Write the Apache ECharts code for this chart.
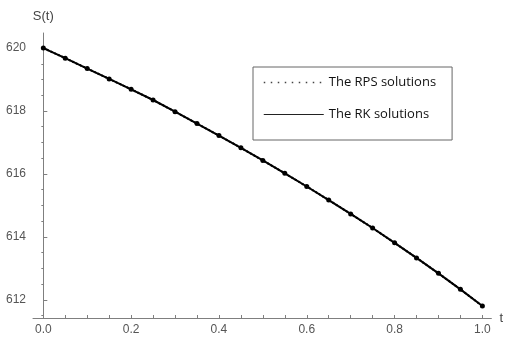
<!DOCTYPE html>
<html><head><meta charset="utf-8">
<script src="https://cdn.jsdelivr.net/npm/echarts@6/dist/echarts.min.js"></script>
<style>html,body{margin:0;padding:0;background:#fff}#c{width:506px;height:337px}</style>
</head><body><div id="c"></div>
<script>
var tValues = [0,0.05,0.1,0.15,0.2,0.25,0.3,0.35,0.4,0.45,0.5,0.55,0.6,0.65,0.7,0.75,0.8,0.85,0.9,0.95,1.0];
var rpsValues = [620.0,619.68,619.35,619.02,618.69,618.35,617.98,617.6,617.22,616.83,616.43,616.02,615.6,615.17,614.73,614.28,613.81,613.33,612.84,612.33,611.8];
var rkValues  = [620.0,619.68,619.35,619.02,618.69,618.35,617.98,617.6,617.22,616.83,616.43,616.02,615.6,615.17,614.73,614.28,613.81,613.33,612.84,612.33,611.8];
var xMajor = [0,0.2,0.4,0.6,0.8,1.0];
var xMajorLabels = ['0.0','0.2','0.4','0.6','0.8','1.0'];
var xTicks = [0,0.05,0.1,0.15,0.2,0.25,0.3,0.35,0.4,0.45,0.5,0.55,0.6,0.65,0.7,0.75,0.8,0.85,0.9,0.95,1.0];
var yMajor = [612,614,616,618,620];
var yMinor = [611.5,612.5,613,613.5,614.5,615,615.5,616.5,617,617.5,618.5,619,619.5];

function pairs(xs, ys){ return xs.map(function(x,i){return [x, ys[i]];}); }
function xLabel(v){
  var n = Number(v);
  for (var i=0;i<xMajor.length;i++){ if (Math.abs(xMajor[i]-n)<1e-6) return xMajorLabels[i]; }
  return n.toFixed(1);
}

var axisGray = '#7f7f7f';
var chart = echarts.init(document.getElementById('c'));
chart.setOption({
  animation:false,
  grid:{left:33, top:33, width:459, height:285, containLabel:false},
  xAxis:[{
    type:'value', min:-0.0235, max:1.0205,
    axisLine:{onZero:false, lineStyle:{color:axisGray, width:1}},
    axisTick:{inside:true, length:3, customValues:xTicks, lineStyle:{color:axisGray}},
    axisLabel:{customValues:xMajor, margin:6, formatter:xLabel, color:'#555', fontFamily:'Liberation Sans', fontSize:12},
    splitLine:{show:false},
    name:'t', nameLocation:'end', nameGap:8,
    nameTextStyle:{color:'#444', fontFamily:'Liberation Sans', fontSize:13}
  }],
  yAxis:[{
    type:'value', min:611.42, max:620.48,
    axisLine:{onZero:true, onZeroAxisIndex:0, lineStyle:{color:axisGray, width:1}},
    axisTick:{inside:true, length:4, customValues:yMajor, lineStyle:{color:axisGray}},
    axisLabel:{customValues:yMajor, margin:7, color:'#555', fontFamily:'Liberation Sans', fontSize:12},
    splitLine:{show:false},
    name:'S(t)', nameLocation:'end', nameGap:10,
    nameTextStyle:{color:'#444', fontFamily:'Liberation Sans', fontSize:13, align:'center'}
  },{
    type:'value', min:611.42, max:620.48,
    axisLine:{show:false, onZero:true, onZeroAxisIndex:0},
    axisTick:{inside:true, length:2, customValues:yMinor, lineStyle:{color:axisGray}},
    axisLabel:{show:false}, splitLine:{show:false}
  }],
  legend:{
    orient:'vertical', left:253, top:67,
    padding:[9, 16, 19, 10], itemGap:19, itemWidth:60, itemHeight:14,
    borderColor:'#666', borderWidth:1, backgroundColor:'#fff',
    textStyle:{color:'#111', fontFamily:'Open Sans', fontSize:13},
    data:[
      {name:'The RPS solutions', itemStyle:{opacity:0}, lineStyle:{color:'#444', width:1.5, type:[1.5,5.5]}},
      {name:'The RK solutions', itemStyle:{opacity:0}, lineStyle:{color:'#222', width:1}}
    ]
  },
  series:[{
    name:'The RPS solutions', type:'line', xAxisIndex:0, yAxisIndex:0,
    data:pairs(tValues, rpsValues),
    lineStyle:{color:'#000', width:2, type:'dotted'},
    itemStyle:{color:'#000'}, symbol:'circle', symbolSize:5, showSymbol:true, z:3
  },{
    name:'The RK solutions', type:'line', xAxisIndex:0, yAxisIndex:0,
    data:pairs(tValues, rkValues),
    lineStyle:{color:'#000', width:2, type:'solid'},
    itemStyle:{color:'#000'}, symbol:'none', z:2
  }]
});
</script></body></html>
